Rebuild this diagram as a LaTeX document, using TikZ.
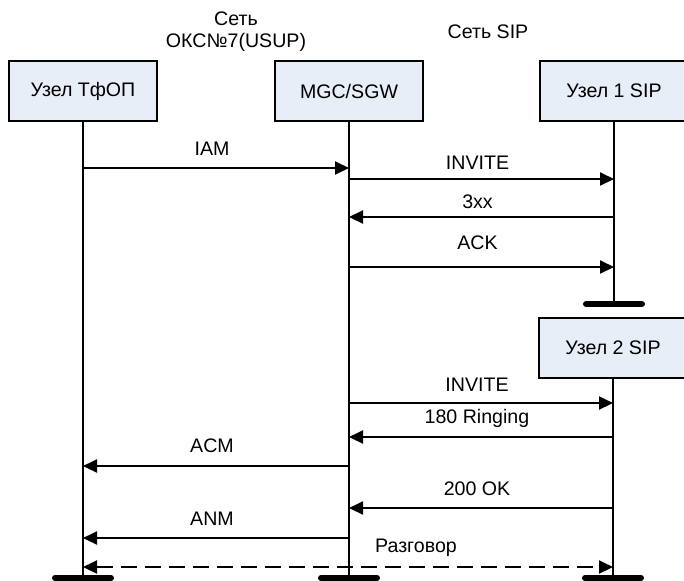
\documentclass[tikz,border=0pt]{standalone}
\usepackage{fontspec}
\setmainfont{Liberation Sans}
\usepackage{tikz}
\usetikzlibrary{arrows.meta,positioning,calc}
\definecolor{boxfill}{RGB}{232,238,248}
\tikzset{
    unit/.style={draw=black, fill=boxfill, line width=1pt, minimum width=74pt, minimum height=30pt, inner sep=0pt},
    life/.style={line width=1pt},
    msg/.style={line width=1pt, -{Triangle[length=7pt,width=6.5pt]}},
    talk/.style={line width=1pt, dash pattern=on 8pt off 4pt, {Triangle[length=7pt,width=6.5pt]}-{Triangle[length=7pt,width=6.5pt]}},
    endbar/.style={line width=3pt, line cap=round},
    lab/.style={inner sep=0pt}
}
\begin{document}
\begin{tikzpicture}[x=0.5pt, y=-0.5pt, font=\fontsize{9.8}{11.5}\selectfont]
    % Picture frame
    \clip (0,0) rectangle (684,580);
    \useasboundingbox (0,0) rectangle (684,580);
    % Network captions
    \node[lab] (net7) at (236,19) {Сеть};
    \node[lab] (net7b) at (236,42) {ОКС№7(USUP)};
    \node[lab] (netsip) at (488,32) {Сеть SIP};
    % Nodes of the call
    \node[unit] (tfop) at (83,91) {Узел ТфОП};
    \node[unit] (mgc) at (349,91) {MGC/SGW};
    \node[unit] (sip1) at (614,91) {Узел 1 SIP};
    \node[unit] (sip2) at (613,348) {Узел 2 SIP};
    % Ends of the life lines
    \coordinate (tfopend) at (83,578);
    \coordinate (mgcend) at (349,578);
    \coordinate (sip1end) at (614,304);
    \coordinate (sip2end) at (613,578);
    \draw[life] (tfop.south) -- (tfopend);
    \draw[life] (mgc.south) -- (mgcend);
    \draw[life] (sip1.south) -- (sip1end);
    \draw[life] (sip2.south) -- (sip2end);
    % Thick bars
    \foreach \e in {tfopend,mgcend,sip1end,sip2end} {
        \draw[endbar] ([xshift=-14pt]\e) -- ([xshift=14pt]\e);
    }
    % Messages: arrow y / label y / from / to / text
    \foreach \y/\ly/\a/\b/\t in {
        168/149/tfop/mgc/IAM,
        179/163/mgc/sip1/INVITE,
        217/202/sip1/mgc/3xx,
        267/243/mgc/sip1/ACK,
        403/385/mgc/sip2/INVITE,
        437/418/sip2/mgc/180 Ringing,
        466/446/mgc/tfop/ACM,
        508/489/sip2/mgc/200 OK,
        538/519/mgc/tfop/ANM} {
        \draw[msg] (\a.south |- 0,\y) coordinate (s) -- (\b.south |- 0,\y) coordinate (e);
        \node[lab] at ($(s)!0.5!(e) + (-4,\ly-\y)$) {\t};
    }
    % Conversation
    \draw[talk] (tfopend |- 0,567) -- (sip2end |- 0,567);
    \node[lab] (talklab) at (416,548) {Разговор};
\end{tikzpicture}
\end{document}
